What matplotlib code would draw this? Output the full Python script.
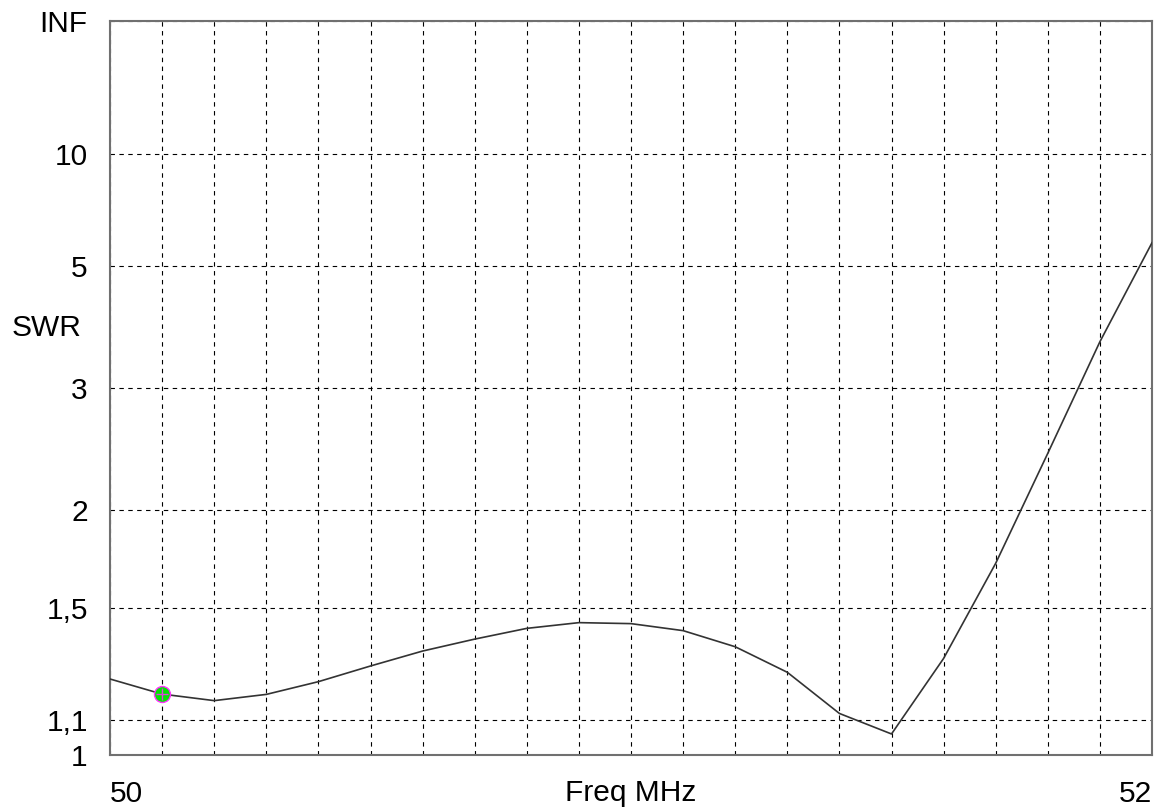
import numpy as np
import matplotlib
matplotlib.use("Agg")
import matplotlib.pyplot as plt

plt.rcParams['font.family'] = ['Liberation Sans', 'DejaVu Sans']

# Data
freq_mhz = [50.0, 50.1, 50.2, 50.3, 50.4, 50.5, 50.6, 50.7, 50.8, 50.9, 51.0,
            51.1, 51.2, 51.3, 51.4, 51.5, 51.6, 51.7, 51.8, 51.9, 52.0]
swr = [1.231, 1.181, 1.160, 1.180, 1.222, 1.276, 1.330, 1.375, 1.417, 1.440, 1.436,
       1.408, 1.346, 1.254, 1.120, 1.059, 1.303, 1.707, 2.396, 3.577, 5.62]
marker_freq = 50.1
marker_swr = 1.181

swr_ticks = [1, 1.1, 1.5, 2, 3, 5, 10, 1e12]
swr_tick_labels = ['1', '1,1', '1,5', '2', '3', '5', '10', 'INF']
x_grid = [50.0 + 0.1 * i for i in range(21)]
x_tick_labels = ['50'] + [''] * 19 + ['52']


def fwd(s):
    s = np.asarray(s, dtype=float)
    return 1.0 - 2.0 / (s + 1.0)


def inv(r):
    r = np.asarray(r, dtype=float)
    with np.errstate(divide='ignore', invalid='ignore'):
        return (1.0 + r) / (1.0 - r)


W, H = 1162, 811
fig = plt.figure(figsize=(W / 100, H / 100), dpi=100)
ax = fig.add_axes([110 / W, (H - 755) / H, 1042 / W, 734 / H])
ax.set_yscale('function', functions=(fwd, inv))
ax.set_xlim(50, 52)
ax.set_ylim(1, 1e12)

ax.plot(freq_mhz, swr, color='#333333', lw=1.2, zorder=3)
ax.plot([marker_freq], [marker_swr], marker='o', ms=11.5, mfc='#00e600',
        mec='#ff33ff', mew=1.0, zorder=4)
ax.plot([marker_freq], [marker_swr], marker='+', ms=9, color='#e040e0',
        mew=1.0, zorder=5)

ax.set_yticks(swr_ticks)
ax.set_yticklabels(swr_tick_labels)
ax.set_xticks(x_grid)
ax.set_xticklabels(x_tick_labels)
xl = ax.get_xticklabels()
xl[0].set_ha('left')
xl[-1].set_ha('right')
ax.yaxis.set_minor_locator(matplotlib.ticker.NullLocator())
ax.tick_params(axis='both', length=0, labelsize=21.5, colors='black')
ax.tick_params(axis='y', pad=16)
ax.tick_params(axis='x', pad=18)

ax.grid(True, color='black', lw=0.8, linestyle=(0, (4, 4)))
ax.set_axisbelow(True)

for sp in ax.spines.values():
    sp.set_color('#707070')
    sp.set_linewidth(1.5)

ax.set_xlabel('Freq MHz', fontsize=21.5)
ax.xaxis.set_label_coords(0.5, -(779 - 755) / 734)
ax.xaxis.label.set_va('top')
ax.set_ylabel('SWR', fontsize=21.5, rotation=0, ha='center', va='center')
ax.yaxis.set_label_coords((46.5 - 110) / 1042, (755 - 328) / 734)

fig.savefig('out.png', dpi=100)
